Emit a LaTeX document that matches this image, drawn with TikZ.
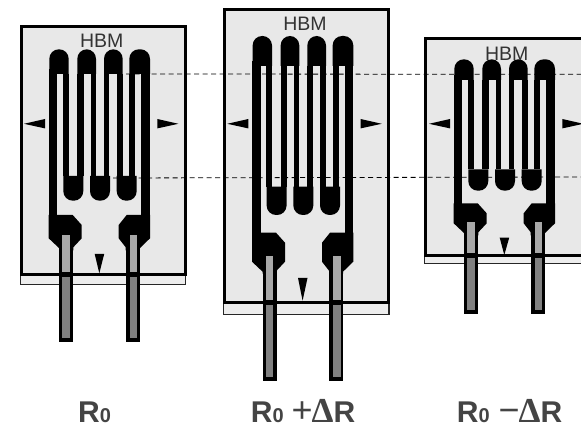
\documentclass[tikz,border=0pt]{standalone}
\usepackage{fontspec}
\setmainfont{Liberation Sans}
\newfontfamily\symfont{Liberation Serif}
\definecolor{plate}{HTML}{E8E8E8}
\definecolor{stripfill}{HTML}{EDEDED}
\definecolor{leadlight}{HTML}{A8A8A8}
\definecolor{leaddark}{HTML}{808080}
\definecolor{inktext}{HTML}{444444}
\pgfkeys{/g/.cd,
  id/.store in=\gid, dx/.store in=\gdx, left/.store in=\gleft,
  top/.store in=\gT, bot/.store in=\gB, strip/.store in=\gS,
  la/.store in=\gla, lb/.store in=\glb, lc/.store in=\glc, ld/.store in=\gld,
  pe/.store in=\gpe, pp/.store in=\gpp, lf/.store in=\glf, lg/.store in=\glg,
  ta/.store in=\gta, tb/.store in=\gtb, ht/.store in=\ght, sp/.store in=\gsp}
\newcommand\barfill[4]{\fill (#1,#3) rectangle (#2,#4);}
\newcommand\uloop[2]{\fill (#1,\glb) [rounded corners=9.5pt] -- (#1,\gla) -- (#2,\gla) [sharp corners] -- (#2,\glb) -- cycle;}
\newcommand\dloop[2]{\fill (#1,\glc) [rounded corners=9.5pt] -- (#1,\gld) -- (#2,\gld) [sharp corners] -- (#2,\glc) -- cycle;}
\newcommand\gaugeunit[1]{%
 \begingroup
 \pgfkeys{/g/.cd,#1}%
 \begin{scope}[shift={(\gdx,0)}]
  \draw[stripline] (\gleft-1,\gT) rectangle (185.7,\gS);
  \draw[plateline] (\gleft,\gT) rectangle (185.2,\gB);
  % folded grid
  \uloop{49.3}{68.7}\uloop{77.3}{96}\uloop{104}{122.7}\uloop{129.3}{150}
  \dloop{63.3}{83.3}\dloop{90}{110}\dloop{116.7}{136.7}
  \barfill{62.7}{68.7}{\glb}{\glc}
  \barfill{77.3}{84}{\glb}{\glc}
  \barfill{90.7}{96}{\glb}{\glc}
  \barfill{104}{109.3}{\glb}{\glc}
  \barfill{116.7}{122.7}{\glb}{\glc}
  \barfill{129.3}{135.3}{\glb}{\glc}
  \barfill{48.7}{57.3}{\glb-5}{\gpe+5}
  \barfill{141.3}{150}{\glb-5}{\gpe+5}
  % solder pads
  \fill (48.7,\gpe) -- (72.7,\gpe) -- (81.7,\gpe+10) -- (81.7,\gpp) -- (73.3,\gpp+9) -- (73.3,\gpp+12) -- (59.3,\gpp+12) -- (59.3,\gpp+10) -- (48.7,\gpp) -- cycle;
  \fill (150,\gpe) -- (126.7,\gpe) -- (118.7,\gpe+10) -- (118.7,\gpp) -- (125.7,\gpp+9) -- (125.7,\gpp+12) -- (139.7,\gpp+12) -- (139.7,\gpp+10) -- (150,\gpp) -- cycle;
  % lead wires
  \barfill{59.3}{73.3}{\gpp}{\glg}
  \barfill{125.7}{139.7}{\gpp}{\glg}
  \fill[leadlight] (62.3,\glf) rectangle (69.7,\gB-2.5);
  \fill[leadlight] (130,\glf) rectangle (137.3,\gB-2.5);
  \fill[leaddark] (62.3,\gB+2) rectangle (69.7,\glg-4);
  \fill[leaddark] (130,\gB+2) rectangle (137.3,\glg-4);
  % marks
  \fill (24,123.8) -- (45,119) -- (45,128.4) -- cycle;
  \fill (178.4,123.8) -- (157.3,119) -- (157.3,128.4) -- cycle;
  \fill (94.7,\gta) -- (104.2,\gta) -- (99.3,\gtb) -- cycle;
  \node[brandtext] (hbm\gid) at (101.7,\ght) {HBM};
 \end{scope}
 \endgroup}
\tikzset{
  plateline/.style={draw=black,line width=3pt,fill=plate},
  stripline/.style={draw=black!85,line width=1.1pt,fill=stripfill},
  brandtext/.style={text=black!80,inner sep=0pt,font=\fontsize{19.5}{19.5}\selectfont},
  datum/.style={black,line width=0.8pt,dash pattern=on 5pt off 3.5pt},
  caption/.style={text=inktext,inner sep=0pt,anchor=base west,font=\fontsize{30}{30}\selectfont\bfseries}
}
\newcommand\subz{{\fontsize{20}{20}\selectfont 0}}
\begin{document}
\begin{tikzpicture}[x=1pt,y=-1pt]
\useasboundingbox (0,0) rectangle (581,427);
\clip (0,0) rectangle (581,427);
\fill[white] (0,0) rectangle (581,427);
\gaugeunit{id=a,dx=0,left=21.5,top=27,bot=275,strip=284.5,la=49.3,lb=74,lc=176,ld=200.7,pe=215,pp=238.3,lf=235.3,lg=341.7,ta=254,tb=273.3,ht=41}
\gaugeunit{id=b,dx=203.3,left=21,top=10,bot=303,strip=314.5,la=36,lb=66,lc=186.7,ld=215,pe=232.7,pp=261.7,lf=256,lg=380.7,ta=278,tb=300.7,ht=24}
\gaugeunit{id=c,dx=405,left=20.5,top=39,bot=256,strip=263.5,la=59.3,lb=80,lc=169.3,ld=190.7,pe=203.3,pp=223.3,lf=222.3,lg=314.3,ta=237.7,tb=255,ht=54}
\coordinate (ua) at (126,74);
\coordinate (ub) at (581,74.3);
\coordinate (la) at (113,178);
\coordinate (lb) at (581,177);
\draw[datum] (ua) -- (ub);
\draw[datum] (la) -- (lb);
\node[caption] (capa) at (78,423) {R\subz};
\node[caption] (capb) at (250.7,423) {R\subz\hspace{8pt}{\mdseries\fontsize{36}{36}\selectfont +}\hspace{-1pt}{\symfont\fontsize{35}{35}\selectfont\bfseries Δ}R};
\node[caption] (capc) at (456.7,423) {R\subz\hspace{9pt}{\mdseries\fontsize{36}{36}\selectfont −}\hspace{-1pt}{\symfont\fontsize{35}{35}\selectfont\bfseries Δ}R};
\end{tikzpicture}
\end{document}
